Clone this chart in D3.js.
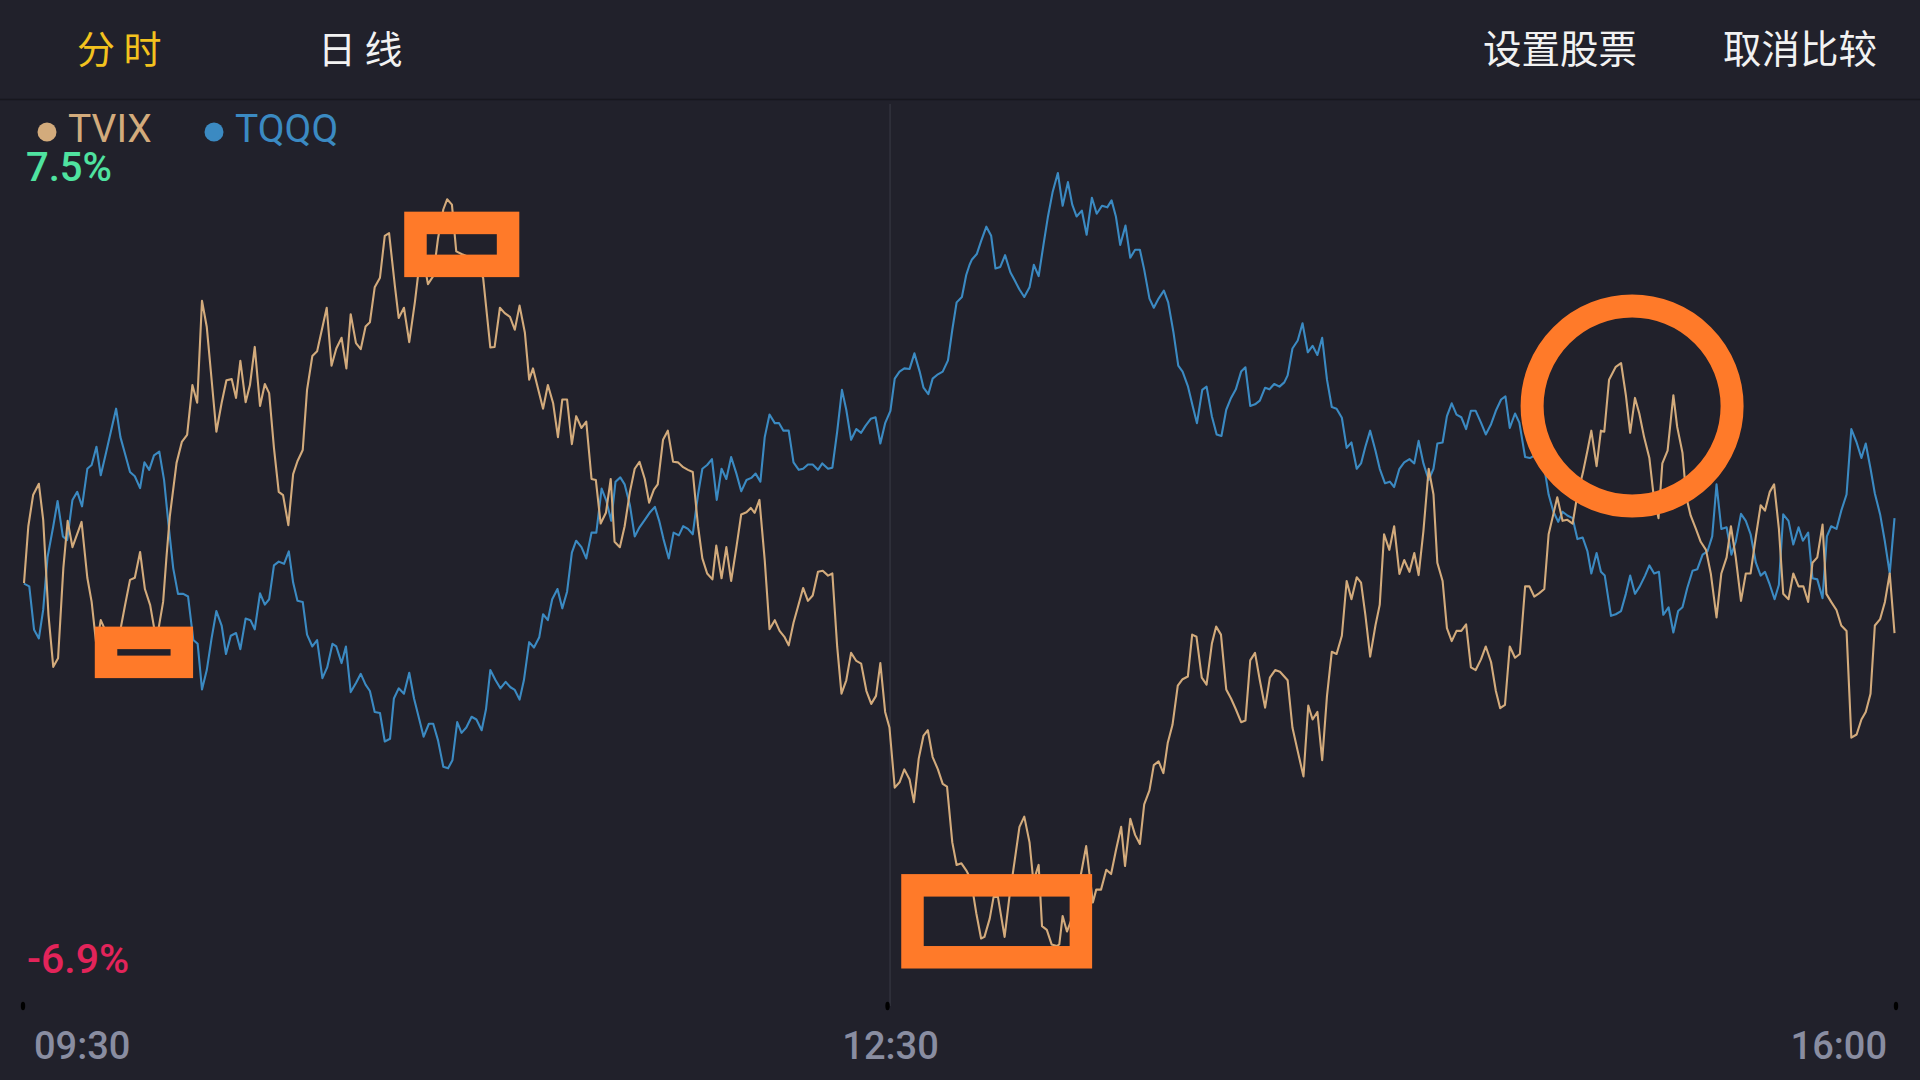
<!DOCTYPE html>
<html>
<head>
<meta charset="utf-8">
<title>TVIX vs TQQQ</title>
<script src="https://cdn.jsdelivr.net/npm/d3@7/dist/d3.min.js"></script>
<style>
  body { margin: 0; background: #21212b; }
  svg { display: block; }
  .cjk { font-family: "Noto Sans CJK SC", "Noto Sans", sans-serif; }
  .num { font-family: Roboto, "Noto Sans", sans-serif; }
</style>
</head>
<body>
<svg width="1920" height="1080" class="chart"></svg>
<script>
// [minute since 09:30, % change]
var tvix = [[0,-0.14],[0.9,0.92],[1.9,1.50],[3.1,1.71],[4.0,1.04],[5.1,-0.73],[6.1,-1.70],[7.1,-1.54],[8.2,0.14],[9.1,1.02],[10.1,0.53],[12.0,1.00],[13.2,-0.04],[14.1,-0.49],[15.1,-1.31],[16.0,-0.83],[16.9,-1.01],[17.9,-1.35],[19.2,-1.20],[20.2,-0.96],[21.0,-0.58],[22.1,-0.08],[23.1,-0.04],[24.2,0.44],[25.2,-0.25],[26.3,-0.55],[27.1,-0.96],[27.7,-1.20],[28.1,-0.96],[29.0,-0.49],[29.7,0.35],[30.4,1.11],[31.8,2.10],[32.9,2.49],[34.0,2.62],[35.1,3.55],[36.1,3.22],[37.1,5.12],[38.1,4.63],[40.1,2.68],[41.2,3.22],[42.2,3.64],[43.3,3.66],[44.2,3.31],[45.1,4.00],[46.2,3.23],[47.1,3.55],[48.1,4.26],[49.2,3.16],[50.2,3.57],[51.1,3.40],[52.1,2.38],[53.1,1.56],[54.0,1.50],[55.1,0.94],[56.1,1.89],[57.0,2.13],[58.1,2.34],[59.0,3.46],[60.1,4.09],[61.1,4.18],[63.1,4.99],[64.1,3.91],[65.1,4.23],[66.2,4.43],[67.2,3.86],[68.1,4.87],[69.2,4.33],[70.2,4.22],[71.2,4.64],[72.1,4.72],[73.1,5.37],[74.2,5.55],[75.2,6.33],[76.1,6.38],[77.3,5.40],[78.1,4.80],[79.2,4.99],[80.3,4.35],[81.5,5.11],[82.4,5.79],[83.3,5.88],[84.2,5.43],[85.3,5.58],[86.3,6.28],[87.4,6.82],[88.2,7.01],[89.2,6.91],[90.1,6.04],[91.2,5.99],[92.6,5.94],[94.3,5.79],[95.7,5.55],[97.2,4.25],[98.1,4.26],[99.2,4.99],[100.2,4.89],[101.3,4.82],[102.3,4.58],[103.3,5.03],[104.4,4.53],[105.3,3.65],[106.1,3.86],[107.1,3.50],[108.2,3.11],[109.2,3.55],[110.3,3.21],[111.3,2.58],[112.2,3.28],[113.2,3.28],[114.2,2.45],[115.1,2.97],[116.2,2.75],[117.2,2.87],[118.3,1.80],[119.2,1.78],[120.2,0.97],[121.3,1.17],[122.3,1.80],[123.1,0.63],[124.2,0.53],[125.2,0.92],[126.3,1.56],[127.3,1.99],[128.3,2.12],[129.4,1.80],[130.3,1.36],[131.3,1.60],[132.1,1.70],[133.2,2.53],[134.2,2.70],[135.3,2.12],[136.3,2.11],[137.4,2.02],[138.4,1.97],[139.4,1.93],[140.5,0.92],[141.4,0.32],[142.4,0.04],[143.5,-0.07],[144.3,0.56],[145.4,-0.05],[146.4,0.53],[147.4,-0.10],[148.5,0.53],[149.5,1.14],[150.6,1.18],[151.5,1.26],[152.3,1.17],[153.3,1.41],[154.4,0.29],[155.4,-1.00],[156.5,-0.83],[157.5,-1.03],[158.5,-1.14],[159.4,-1.30],[160.4,-0.88],[161.3,-0.59],[162.4,-0.23],[163.4,-0.47],[164.4,-0.37],[165.5,0.07],[166.5,0.09],[167.6,0.00],[168.5,0.04],[169.5,-1.32],[170.4,-2.20],[171.4,-1.95],[172.4,-1.44],[173.5,-1.59],[174.5,-1.64],[175.6,-2.15],[176.6,-2.39],[177.6,-2.24],[178.5,-1.63],[179.5,-2.54],[180.4,-2.83],[181.5,-3.95],[182.5,-3.85],[183.5,-3.61],[184.6,-3.80],[185.5,-4.22],[186.5,-3.41],[187.5,-2.98],[188.4,-2.88],[189.4,-3.38],[190.5,-3.61],[191.5,-3.88],[192.4,-3.93],[193.5,-4.97],[194.4,-5.39],[195.4,-5.36],[196.4,-5.49],[197.1,-5.61],[197.8,-5.90],[198.5,-6.29],[199.5,-6.76],[200.2,-6.73],[201.3,-6.39],[202.1,-5.99],[203.0,-5.98],[204.4,-6.73],[205.4,-5.99],[206.5,-5.31],[207.5,-4.68],[208.5,-4.49],[209.6,-4.97],[210.4,-5.70],[211.5,-5.39],[212.2,-6.53],[213.2,-6.60],[214.2,-6.87],[215.3,-6.90],[215.8,-6.87],[216.5,-6.34],[217.4,-6.63],[218.3,-6.42],[219.4,-5.95],[220.4,-5.52],[221.4,-5.04],[222.8,-6.09],[223.5,-5.85],[224.5,-5.85],[225.6,-5.48],[226.6,-5.56],[227.6,-5.12],[228.7,-4.68],[229.5,-5.41],[230.6,-4.53],[231.6,-4.83],[232.6,-5.00],[233.5,-4.26],[234.6,-4.00],[235.5,-3.53],[236.5,-3.46],[237.5,-3.68],[238.4,-3.12],[239.4,-2.78],[240.5,-2.05],[241.5,-1.93],[242.6,-1.88],[243.5,-1.10],[244.4,-1.14],[245.5,-1.90],[246.5,-2.03],[247.6,-1.27],[248.5,-0.95],[249.5,-1.10],[250.6,-2.12],[251.6,-2.29],[252.6,-2.49],[253.7,-2.73],[254.6,-2.70],[255.6,-1.58],[256.6,-1.44],[257.6,-1.95],[258.7,-2.46],[259.7,-1.90],[260.8,-1.76],[261.8,-1.79],[263.4,-1.95],[264.4,-2.83],[265.5,-3.27],[266.7,-3.74],[267.7,-2.42],[268.6,-2.68],[269.6,-2.54],[270.6,-3.44],[271.6,-2.24],[272.6,-1.42],[273.6,-1.46],[274.7,-1.12],[275.7,-0.10],[276.7,-0.44],[277.8,-0.03],[278.7,-0.13],[279.6,-0.73],[280.6,-1.51],[281.7,-0.93],[282.6,-0.54],[283.5,0.77],[284.6,0.48],[285.6,0.92],[286.7,0.03],[287.7,0.29],[288.8,0.07],[289.8,0.42],[290.7,0.01],[291.7,0.83],[292.8,1.99],[293.8,1.51],[294.6,0.24],[295.7,-0.10],[296.6,-0.98],[297.6,-1.22],[298.6,-1.03],[299.6,-1.03],[300.6,-0.91],[301.6,-1.71],[302.6,-1.76],[303.7,-1.56],[304.7,-1.32],[305.8,-1.61],[306.8,-2.15],[307.7,-2.47],[308.7,-2.41],[309.7,-1.32],[310.8,-1.53],[311.8,-1.46],[312.9,-0.20],[313.8,-0.20],[314.8,-0.39],[315.8,-0.33],[316.9,-0.25],[317.8,0.77],[318.8,1.15],[319.6,1.46],[320.7,1.02],[321.7,1.04],[322.8,0.97],[323.8,1.51],[324.9,1.90],[325.9,2.33],[326.7,2.70],[327.8,2.04],[328.7,2.70],[329.4,2.68],[330.4,3.65],[331.8,3.89],[332.9,3.96],[333.9,3.36],[334.8,2.66],[335.8,3.31],[336.7,3.02],[337.7,2.58],[338.8,2.19],[339.6,1.56],[340.7,1.07],[341.5,2.09],[342.6,2.33],[343.8,3.36],[344.6,2.77],[345.7,2.29],[346.5,1.46],[347.4,1.12],[348.5,0.87],[349.5,0.63],[350.6,0.48],[351.6,0.04],[352.8,-0.78],[353.8,0.04],[354.9,0.34],[355.8,0.92],[356.8,0.34],[357.9,-0.47],[358.9,0.04],[359.9,0.04],[361.0,0.73],[362.0,1.31],[362.9,1.21],[363.9,1.56],[364.8,1.70],[365.8,0.87],[366.7,-0.34],[367.8,-0.44],[368.8,0.04],[369.9,-0.20],[370.9,-0.20],[371.9,-0.49],[372.8,0.24],[373.8,0.34],[374.9,0.95],[375.7,-0.34],[376.7,-0.49],[377.8,-0.64],[378.8,-0.93],[379.9,-1.03],[380.9,-3.02],[382.0,-2.96],[383.0,-2.68],[383.9,-2.54],[384.9,-2.20],[385.8,-0.93],[386.9,-0.81],[387.9,-0.49],[388.9,0.04],[389.9,-1.07]]

var tqqq = [[0,-0.15],[1.1,-0.20],[2.1,-1.01],[3.1,-1.17],[4.0,-0.64],[4.9,0.34],[6.1,0.92],[7.0,1.39],[8.1,0.73],[9.0,0.66],[10.1,1.41],[11.1,1.56],[12.1,1.29],[13.2,1.99],[14.1,2.06],[15.1,2.40],[16.0,1.87],[17.1,2.29],[18.1,2.68],[19.2,3.11],[20.1,2.58],[21.0,2.29],[22.1,1.93],[23.1,1.85],[24.2,1.63],[25.1,2.11],[26.1,1.97],[27.1,2.24],[28.2,2.31],[29.2,1.78],[30.1,0.97],[31.1,0.14],[32.1,-0.34],[33.2,-0.34],[34.2,-0.39],[35.3,-1.20],[36.2,-1.27],[37.1,-2.12],[38.1,-1.76],[39.1,-1.17],[40.1,-0.66],[41.2,-0.93],[42.1,-1.46],[43.1,-1.12],[44.2,-1.07],[45.1,-1.37],[46.2,-0.80],[47.2,-0.83],[48.1,-1.00],[49.2,-0.33],[50.2,-0.54],[51.1,-0.44],[52.1,0.19],[53.1,0.26],[54.2,0.22],[55.2,0.45],[56.1,-0.13],[57.0,-0.47],[58.1,-0.49],[59.0,-1.10],[60.1,-1.32],[61.1,-1.20],[62.2,-1.91],[63.2,-1.71],[64.3,-1.27],[65.1,-1.32],[66.2,-1.63],[67.1,-1.32],[68.1,-2.17],[69.2,-2.00],[70.2,-1.83],[71.2,-2.03],[72.1,-2.15],[73.1,-2.54],[74.2,-2.56],[75.2,-3.09],[76.3,-3.04],[77.1,-2.29],[78.1,-2.10],[79.2,-2.20],[80.3,-1.81],[81.3,-2.29],[82.4,-2.68],[83.3,-3.00],[84.4,-2.76],[85.3,-2.76],[86.3,-3.07],[87.4,-3.56],[88.4,-3.59],[89.3,-3.44],[90.3,-2.73],[91.2,-2.93],[92.2,-2.83],[93.3,-2.63],[94.3,-2.68],[95.4,-2.88],[96.3,-2.49],[97.2,-1.76],[98.3,-1.95],[99.3,-2.10],[100.4,-1.98],[101.4,-2.08],[102.3,-2.13],[103.3,-2.31],[104.2,-1.95],[105.3,-1.24],[106.3,-1.34],[107.4,-1.15],[108.2,-0.72],[109.2,-0.83],[110.1,-0.44],[111.2,-0.25],[112.2,-0.61],[113.2,-0.30],[114.2,0.43],[115.1,0.65],[116.2,0.53],[117.2,0.32],[118.3,0.80],[119.3,0.80],[120.4,1.62],[121.4,1.39],[122.4,1.02],[123.3,1.75],[124.3,1.83],[125.2,1.70],[126.3,1.31],[127.3,0.73],[128.3,0.90],[129.4,1.04],[130.4,1.17],[131.5,1.28],[132.4,1.02],[133.3,0.68],[134.4,0.32],[135.4,0.80],[136.5,0.75],[137.4,0.92],[138.4,0.87],[139.4,0.77],[140.5,1.51],[141.4,1.99],[142.4,2.06],[143.4,2.17],[144.4,1.41],[145.4,1.99],[146.4,1.80],[147.4,2.21],[148.5,1.90],[149.5,1.57],[150.6,1.78],[151.6,1.82],[152.5,1.90],[153.5,1.75],[154.4,2.58],[155.4,3.00],[156.5,2.84],[157.4,2.84],[158.3,2.70],[159.4,2.70],[160.4,2.11],[161.5,1.97],[162.4,1.99],[163.4,2.07],[164.4,2.07],[165.5,1.97],[166.4,2.09],[167.6,1.99],[168.5,2.01],[169.5,2.68],[170.5,3.46],[171.4,3.09],[172.4,2.53],[173.5,2.73],[174.5,2.66],[175.4,2.79],[176.5,2.92],[177.5,2.95],[178.5,2.46],[179.5,2.84],[180.6,3.07],[181.5,3.67],[182.5,3.80],[183.5,3.86],[184.6,3.85],[185.6,4.14],[186.7,3.80],[187.5,3.50],[188.5,3.38],[189.4,3.67],[190.5,3.75],[191.5,3.80],[192.6,4.01],[193.5,4.58],[194.4,5.09],[195.5,5.19],[196.4,5.60],[197.1,5.79],[197.6,5.89],[198.6,5.99],[199.5,6.23],[200.6,6.50],[201.6,6.33],[202.5,5.72],[203.5,5.75],[204.5,5.97],[205.6,5.65],[206.5,5.50],[207.5,5.33],[208.5,5.19],[209.6,5.37],[210.5,5.79],[211.5,5.58],[212.5,6.16],[213.4,6.67],[214.4,7.14],[215.5,7.50],[216.5,6.89],[217.6,7.33],[218.5,6.91],[219.4,6.69],[220.5,6.80],[221.5,6.35],[222.6,7.04],[223.6,6.74],[224.7,6.89],[225.8,6.86],[226.7,6.99],[227.6,6.69],[228.5,6.16],[229.6,6.52],[230.6,5.92],[231.6,6.07],[232.6,6.07],[233.5,5.70],[234.6,5.16],[235.5,4.99],[236.5,5.16],[237.6,5.31],[238.5,5.09],[239.6,4.53],[240.6,3.91],[241.5,3.80],[242.6,3.53],[243.6,3.16],[244.5,2.84],[245.6,3.46],[246.5,3.52],[247.6,2.97],[248.6,2.63],[249.6,2.60],[250.6,3.09],[251.6,3.31],[252.6,3.47],[253.7,3.80],[254.6,3.88],[255.6,3.16],[256.6,3.19],[257.6,3.26],[258.7,3.50],[259.6,3.47],[260.6,3.57],[261.7,3.52],[262.7,3.60],[263.4,3.73],[264.4,4.23],[265.5,4.38],[266.5,4.70],[267.6,4.16],[268.6,4.28],[269.6,4.11],[270.6,4.43],[271.6,3.65],[272.6,3.14],[273.6,3.11],[274.7,2.94],[275.7,2.38],[276.7,2.48],[277.8,1.99],[278.7,2.09],[279.6,2.40],[280.6,2.70],[281.7,2.33],[282.6,1.99],[283.7,1.72],[284.7,1.75],[285.6,1.65],[286.7,1.99],[287.7,2.11],[288.8,2.17],[289.8,2.09],[290.7,2.51],[291.7,2.09],[292.8,1.78],[293.8,1.99],[294.6,2.46],[295.7,2.48],[296.6,2.97],[297.6,3.21],[298.6,3.00],[299.6,2.95],[300.6,2.73],[301.6,3.07],[302.6,3.07],[303.7,2.85],[304.7,2.63],[305.8,2.82],[306.8,3.07],[307.9,3.28],[308.8,3.34],[309.7,2.75],[310.8,3.02],[311.7,2.85],[312.9,2.21],[313.9,2.19],[314.9,2.24],[315.8,2.09],[316.9,2.01],[317.8,1.51],[318.8,1.19],[319.8,1.00],[320.7,1.19],[321.7,1.12],[322.8,1.07],[323.8,0.68],[324.9,0.71],[325.9,0.45],[326.7,0.04],[327.8,0.42],[328.7,0.07],[329.5,0.00],[330.8,-0.75],[331.8,-0.72],[332.9,-0.66],[333.9,-0.34],[334.8,0.00],[335.8,-0.34],[336.8,-0.20],[337.9,0.00],[338.8,0.19],[339.8,0.04],[340.8,0.07],[341.7,-0.73],[342.8,-0.59],[343.8,-1.06],[344.8,-0.66],[345.7,-0.59],[346.7,-0.23],[347.8,0.09],[348.8,0.12],[349.9,0.39],[350.9,0.45],[351.9,0.73],[352.8,1.70],[353.8,0.87],[354.9,0.90],[355.9,0.39],[356.8,0.63],[357.9,1.15],[358.9,1.02],[359.9,0.77],[361.0,0.24],[362.0,0.00],[362.9,0.07],[363.9,-0.17],[364.9,-0.44],[365.8,-0.17],[366.7,1.14],[367.8,1.02],[368.8,0.58],[369.9,0.90],[370.8,0.65],[371.9,0.80],[372.8,-0.05],[373.8,-0.07],[374.9,-0.42],[375.8,0.73],[376.7,0.92],[377.8,0.87],[378.8,1.21],[379.9,1.51],[380.9,2.73],[382.0,2.48],[383.0,2.19],[383.9,2.46],[384.9,1.99],[385.8,1.53],[386.9,1.14],[387.9,0.63],[388.9,0.04],[389.9,1.07]]

var seriesNames = ['TVIX', 'TQQQ']
var timeTicks = [0, 180, 390]
var timeLabels = ['09:30', '12:30', '16:00']
var pctRange = [-6.9, 7.5]
var tabsLeft = ['分 时', '日 线']
var tabsRight = ['设置股票', '取消比较']

// orange markup: boxes [m0, m1, p0, p1], ring [m, p]
var markBoxes = [[17.1, 32.9, -1.16, -1.70], [81.6, 100.9, 6.57, 5.77], [185.2, 220.3, -5.77, -7.11]]
var markRing = [335.2, 3.16]

var svg = d3.select('.chart')
var W = 1920, H = 1080

var x = d3.scaleLinear().domain([0, 390]).range([24, 1895])
var y = d3.scaleLinear().domain(pctRange).range([946, 173])
var colors = {TVIX: '#d3ab7c', TQQQ: '#3b8ac2'}

svg.append('rect').attr('width', W).attr('height', H).attr('fill', '#21212b')

// header
svg.append('line').attr('x1', 0).attr('x2', W).attr('y1', 99.5).attr('y2', 99.5)
  .attr('stroke', '#17171e').attr('stroke-width', 1.5)

svg.selectAll('.tab-l').data(tabsLeft).enter().append('text')
  .attr('class', 'cjk')
  .attr('x', function(d, i) { return [77, 318][i] })
  .attr('y', 63)
  .attr('font-size', 38)
  .attr('fill', function(d, i) { return i == 0 ? '#f3c21e' : '#f2f2f2' })
  .text(function(d) { return d })

svg.selectAll('.tab-r').data(tabsRight).enter().append('text')
  .attr('class', 'cjk')
  .attr('x', function(d, i) { return [1637, 1877][i] })
  .attr('y', 63)
  .attr('text-anchor', 'end')
  .attr('font-size', 38.5)
  .attr('fill', '#f2f2f2')
  .text(function(d) { return d })

// 12:30 divider
svg.append('line')
  .attr('x1', x(180) + 2.5).attr('x2', x(180) + 2.5).attr('y1', 104).attr('y2', 1006)
  .attr('stroke', '#363743').attr('stroke-width', 1.2)

// legend
var leg = svg.selectAll('.leg').data(seriesNames).enter().append('g')
  .attr('transform', function(d, i) { return 'translate(' + [47, 214][i] + ',0)' })
leg.append('circle').attr('cx', 0).attr('cy', 132).attr('r', 9.5)
  .attr('fill', function(d) { return colors[d] })
leg.append('text').attr('class', 'num')
  .attr('x', 21).attr('y', 142).attr('font-size', 39)
  .attr('fill', function(d) { return colors[d] })
  .text(function(d) { return d })

// range labels
svg.append('text').attr('class', 'num')
  .attr('x', 26).attr('y', 181).attr('font-size', 40).attr('font-weight', 500)
  .attr('fill', '#4fe3a0').text(pctRange[1] + '%')
svg.append('text').attr('class', 'num')
  .attr('x', 27).attr('y', 973).attr('font-size', 41).attr('font-weight', 500)
  .attr('fill', '#e3245a').text(pctRange[0] + '%')

// lines
var line = d3.line()
  .x(function(d) { return x(d[0]) })
  .y(function(d) { return y(d[1]) })

svg.append('path').datum(tqqq)
  .attr('d', line).attr('fill', 'none')
  .attr('stroke', colors.TQQQ).attr('stroke-width', 2.1).attr('stroke-linejoin', 'round')

svg.append('path').datum(tvix)
  .attr('d', line).attr('fill', 'none')
  .attr('stroke', colors.TVIX).attr('stroke-width', 2.1).attr('stroke-linejoin', 'round')

// time axis
svg.selectAll('.tick-dot').data(timeTicks).enter().append('ellipse')
  .attr('cx', function(d) { return x(d) - (d == 0 ? 1 : d == 390 ? -1 : 0) })
  .attr('cy', 1006).attr('rx', 2.2).attr('ry', 4.2)
  .attr('fill', '#000')

svg.selectAll('.tlab').data(timeLabels).enter().append('text')
  .attr('class', 'num')
  .attr('x', function(d, i) { return [34, x(timeTicks[1]) + 3, 1887][i] })
  .attr('y', 1059)
  .attr('text-anchor', function(d, i) { return ['start', 'middle', 'end'][i] })
  .attr('font-size', 38).attr('font-weight', 500)
  .attr('fill', '#898da1')
  .text(function(d) { return d })

// orange markup
var orange = '#ff7a29'
svg.selectAll('.mbox').data(markBoxes).enter().append('rect')
  .attr('x', function(d) { return x(d[0]) })
  .attr('y', function(d) { return y(d[2]) })
  .attr('width', function(d) { return x(d[1]) - x(d[0]) })
  .attr('height', function(d) { return y(d[3]) - y(d[2]) })
  .attr('fill', 'none').attr('stroke', orange).attr('stroke-width', 22.5)

svg.append('circle')
  .attr('cx', x(markRing[0])).attr('cy', y(markRing[1])).attr('r', 100)
  .attr('fill', 'none').attr('stroke', orange).attr('stroke-width', 23)
</script>
</body>
</html>
